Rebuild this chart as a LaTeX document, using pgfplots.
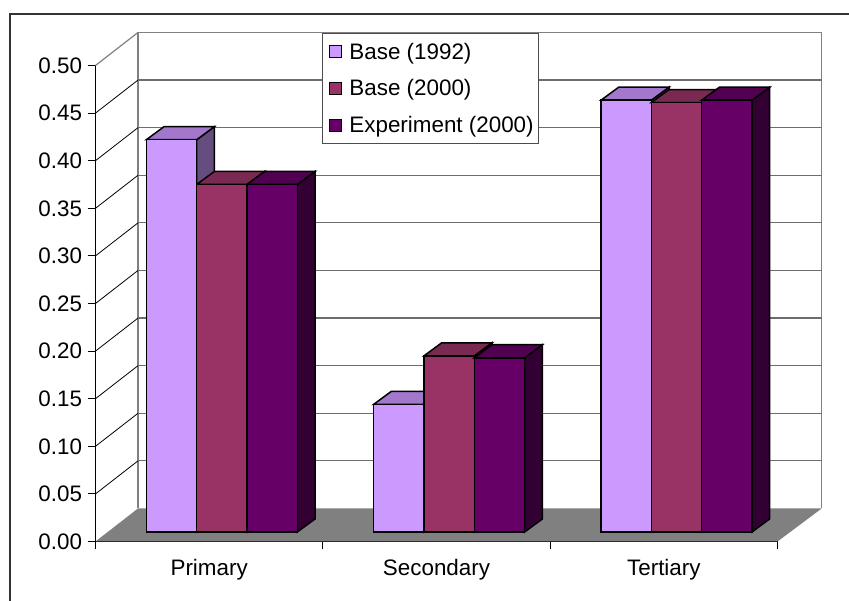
\documentclass[border=0pt]{standalone}
\usepackage{pgfplots}
\pgfplotsset{compat=1.18}
\usepackage{fontspec}
\setmainfont{Liberation Sans}
\definecolor{cA}{HTML}{CC99FF}\definecolor{cB}{HTML}{993366}\definecolor{cC}{HTML}{660066}
\definecolor{tA}{HTML}{A378CC}\definecolor{tB}{HTML}{7A2952}\definecolor{tC}{HTML}{520052}
\definecolor{sA}{HTML}{664D80}\definecolor{sB}{HTML}{4D1933}\definecolor{sC}{HTML}{330033}
\definecolor{wallc}{HTML}{808080}
% side and top faces of one bar: L R L+dx R+dx value value+dy, side colour, top colour
\newcommand{\faces}[8]{%
 \addplot[forget plot,draw=black,line width=1.5pt,fill=#7] coordinates {(#2,0) (#4,0.0137) (#4,#6) (#2,#5)} -- cycle;
 \addplot[forget plot,draw=black,line width=1.5pt,fill=#8] coordinates {(#1,#5) (#2,#5) (#4,#6) (#3,#6)} -- cycle;
}
\newcommand{\front}[4]{%
 \addplot[#4,ybar,bar width=0.2215,bar shift=#3,fill=#2,draw=black,line width=1.5pt] coordinates {#1};
}
\newcommand{\wallgrid}[2]{%
 \addplot[black,line width=0.8pt] coordinates {(0,#1) (0.187,#2)};
 \addplot[wallc!85!black,line width=1.2pt] coordinates {(0.187,#2) (3.1945,#2)};
}
\begin{document}
\begin{tikzpicture}[x=1pt,y=1pt]
\path[use as bounding box] (0,0) rectangle (849,601);
\draw[color=black!80,line width=1.4pt] (10,0) -- (10,587) -- (849,587);
\begin{axis}[
  at={(95.5pt,59.5pt)},anchor=south west,
  scale only axis,width=682pt,height=476pt,
  xmin=0,xmax=3,ymin=0,ymax=0.5,clip=false,
  axis x line*=bottom,axis y line*=left,
  axis line style={black,line width=1.1pt,-},
  xtick={0.5,1.5,2.5},xticklabels={Primary,Secondary,Tertiary},
  minor xtick={0,1,2,3},
  ytick={0,0.05,0.1,0.15,0.2,0.25,0.3,0.35,0.4,0.45,0.5},
  yticklabel style={xshift=-2pt,/pgf/number format/.cd,fixed,fixed zerofill,precision=2,assume math mode=true},
  tick label style={font=\fontsize{22.4}{26}\selectfont,black},
  tick align=outside,major tick length=8pt,minor tick length=8pt,
  major x tick style={draw=none},
  every tick/.style={black,line width=1pt},
  minor x tick style={black,line width=1pt},
  xticklabel style={yshift=-6pt},
]
\addplot[fill=wallc,draw=none] coordinates {(0,0) (3,0) (3.1945,0.0347) (0.187,0.0347)} -- cycle;
\addplot[wallc,line width=1.2pt] coordinates {(0.187,0.0347) (0.187,0.5347) (3.1945,0.5347) (3.1945,0.0347)};
\addplot[wallc,line width=1.2pt] coordinates {(0,0.5) (0.187,0.5347)};
\wallgrid{0.05}{0.0847}
\wallgrid{0.10}{0.1347}
\wallgrid{0.15}{0.1847}
\wallgrid{0.20}{0.2347}
\wallgrid{0.25}{0.2847}
\wallgrid{0.30}{0.3347}
\wallgrid{0.35}{0.3847}
\wallgrid{0.40}{0.4347}
\wallgrid{0.45}{0.4847}
\end{axis}
\begin{axis}[
  at={(95.5pt,59.5pt)},anchor=south west,
  scale only axis,width=682pt,height=476pt,
  xmin=-0.5556,xmax=2.4444,ymin=-0.01,ymax=0.49,clip=false,
  hide axis,
  legend cell align=left,
  legend style={at={(0.332,1.0685)},anchor=north west,draw=black!70,line width=1pt,fill=white,
    font=\fontsize{22.4}{26}\selectfont,inner xsep=3pt,inner ysep=7.5pt,
    row sep=15pt},
  legend image code/.code={\path[draw=none,fill=none] (0pt,-6pt) rectangle (22pt,6pt);\draw[#1,line width=1pt] (4pt,-6pt) rectangle (16pt,6pt);},
]
% Primary
\faces{-0.33225}{-0.11075}{-0.25435}{-0.03285}{0.412}{0.4257}{sA}{tA}
\faces{-0.11075}{0.11075}{-0.03285}{0.18865}{0.365}{0.3787}{sB}{tB}
\faces{0.11075}{0.33225}{0.18865}{0.41015}{0.365}{0.3787}{sC}{tC}
\front{(0,0.412)}{cA}{-0.2215}{forget plot}
\front{(0,0.365)}{cB}{0}{forget plot}
\front{(0,0.365)}{cC}{0.2215}{forget plot}
% Secondary
\faces{0.66775}{0.88925}{0.74565}{0.96715}{0.134}{0.1477}{sA}{tA}
\front{(1,0.134)}{cA}{-0.2215}{forget plot}
\faces{0.88925}{1.11075}{0.96715}{1.18865}{0.185}{0.1987}{sB}{tB}
\front{(1,0.185)}{cB}{0}{forget plot}
\faces{1.11075}{1.33225}{1.18865}{1.41015}{0.183}{0.1967}{sC}{tC}
\front{(1,0.183)}{cC}{0.2215}{forget plot}
% Tertiary
\faces{1.66775}{1.88925}{1.74565}{1.96715}{0.4535}{0.4672}{sA}{tA}
\front{(2,0.4535)}{cA}{-0.2215}{forget plot}
\faces{1.88925}{2.11075}{1.96715}{2.18865}{0.451}{0.4647}{sB}{tB}
\front{(2,0.451)}{cB}{0}{forget plot}
\faces{2.11075}{2.33225}{2.18865}{2.41015}{0.4535}{0.4672}{sC}{tC}
\front{(2,0.4535)}{cC}{0.2215}{forget plot}
% legend keys
\addlegendimage{fill=cA,draw=black}\addlegendentry{Base (1992)}
\addlegendimage{fill=cB,draw=black}\addlegendentry{Base (2000)}
\addlegendimage{fill=cC,draw=black}\addlegendentry{Experiment (2000)}
\end{axis}
\end{tikzpicture}
\end{document}
